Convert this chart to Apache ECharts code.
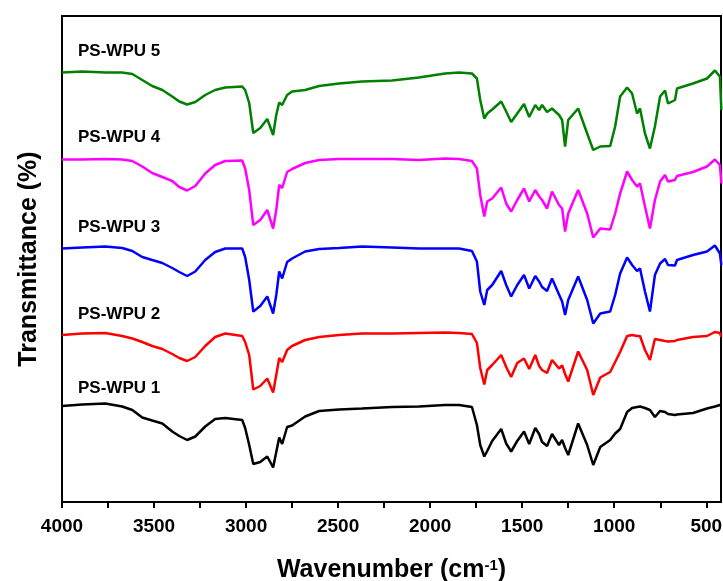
<!DOCTYPE html>
<html>
<head>
<meta charset="utf-8">
<script src="https://cdn.jsdelivr.net/npm/echarts@6/dist/echarts.min.js"></script>
<style>html,body{margin:0;padding:0;background:#fff}#c{width:723px;height:581px}</style>
</head>
<body>
<div id="c"></div>
<script>
// Wavenumber (cm-1) sample points
const wavenumbers = [4000,3890,3765,3673,3618,3564,3510,3455,3401,3363,3320,3276,3222,3168,3113,3021,3005,2983,2961,2923,2885,2853,2836,2820,2804,2777,2750,2679,2603,2495,2370,2207,2061,1919,1843,1773,1746,1728,1706,1690,1663,1614,1587,1560,1527,1490,1462,1429,1408,1392,1365,1338,1300,1283,1267,1250,1196,1147,1114,1076,1022,995,968,930,903,876,860,833,806,779,751,724,708,670,659,572,496,453,426,418];

// Stacked transmittance (offset, arbitrary units)
const psWpu5 = [85.9,86.1,85.9,85.9,85.6,84.4,83.2,82.4,81.1,80.1,79.5,80.0,81.4,82.4,82.9,83.1,82.4,79.8,73.8,74.8,76.6,73.4,77.4,79.9,79.4,81.4,82.1,82.4,83.2,83.7,84.1,84.3,84.9,85.7,85.9,85.7,84.7,80.4,76.7,77.7,78.5,80.1,78.1,76.0,77.7,79.6,77.0,79.4,78.4,79.4,78.0,78.7,77.4,76.4,71.1,76.4,78.7,73.7,70.4,71.1,71.2,75.1,81.1,82.9,81.7,77.7,78.7,73.7,70.7,75.1,81.1,82.3,79.7,80.4,82.7,83.7,84.7,86.3,85.1,78.4];
const psWpu4 = [68.5,68.5,68.6,68.5,68.2,67.1,65.8,65.0,64.2,63.0,62.3,63.2,65.7,67.4,68.2,68.3,66.7,62.4,55.4,56.4,58.4,54.7,58.4,63.4,62.8,66.0,66.6,67.8,68.4,68.6,68.6,68.6,68.4,68.7,68.6,68.2,66.7,61.4,57.1,60.1,60.7,62.9,59.7,58.1,60.4,62.7,60.1,62.4,61.1,60.4,58.7,62.1,59.4,58.7,54.1,57.7,62.4,57.7,52.9,54.7,54.5,57.7,61.7,66.1,64.4,63.1,63.7,59.1,54.7,60.4,64.1,65.4,64.1,64.4,65.2,66.0,67.1,68.5,67.4,63.7];
const psWpu3 = [50.7,50.9,51.1,50.8,50.2,49.0,48.4,47.8,46.8,46.0,45.2,46.1,48.4,50.0,50.7,50.7,49.0,44.4,38.1,39.2,41.1,37.7,41.4,46.1,44.7,48.0,48.7,50.1,50.6,50.8,51.1,50.9,50.7,50.7,50.7,50.2,48.1,42.1,39.4,42.4,43.4,46.2,43.4,41.1,43.4,45.4,42.7,45.2,44.1,43.0,42.2,44.7,41.5,40.1,37.4,40.4,45.1,40.4,35.7,37.7,38.1,41.4,45.7,48.9,47.4,46.2,46.7,42.1,38.1,45.4,47.7,48.6,47.4,47.3,48.4,49.4,50.1,51.3,49.7,47.4];
const psWpu2 = [33.4,33.7,33.8,33.2,32.7,32.0,31.2,30.6,29.6,28.8,28.2,29.0,31.2,33.0,33.7,33.2,32.0,29.4,22.5,23.2,24.7,21.9,25.4,28.8,28.0,30.4,31.2,32.4,33.0,33.4,33.7,33.7,33.8,33.9,33.8,33.6,31.8,26.8,23.5,26.4,27.4,29.4,27.0,25.0,27.8,28.7,26.6,29.4,27.2,26.4,25.8,28.4,26.7,27.3,25.6,24.1,30.1,26.4,21.4,24.9,26.0,28.0,30.0,33.2,33.4,33.2,33.2,30.4,28.4,32.6,32.4,32.2,32.1,32.2,32.4,33.0,33.2,34.0,33.8,33.0];
const psWpu1 = [19.2,19.5,19.7,19.1,18.4,16.9,16.3,15.7,14.1,13.2,12.4,13.1,15.1,16.6,16.8,16.4,14.8,11.4,7.6,8.0,9.1,6.9,10.0,12.9,11.6,15.0,15.3,17.1,18.2,18.5,18.7,19.0,19.1,19.4,19.4,19.0,15.4,11.4,9.1,10.2,12.2,14.6,11.7,10.1,12.2,14.1,11.6,14.8,13.6,12.0,11.2,13.6,11.4,12.4,10.8,9.4,15.7,11.4,7.4,11.0,12.4,13.7,14.6,18.0,18.8,19.0,19.1,18.8,18.4,17.0,18.2,18.0,17.6,17.4,17.5,17.8,18.7,19.1,19.4,19.4];

const seriesNames = ['PS-WPU 1','PS-WPU 2','PS-WPU 3','PS-WPU 4','PS-WPU 5'];
const seriesColors = ['#000000','#ff0000','#0000ff','#ff00ff','#008000'];
const labelTickValues = [4000,3500,3000,2500,2000,1500,1000,500];
const minorTickValues = [4000,3750,3500,3250,3000,2750,2500,2250,2000,1750,1500,1250,1000,750,500];

const allValues = [psWpu1, psWpu2, psWpu3, psWpu4, psWpu5];
const labelY = [388, 314, 227, 137, 51];

const FONT = 'Liberation Sans, Arial, sans-serif';
const chart = echarts.init(document.getElementById('c'), null, {renderer: 'canvas'});
chart.setOption({
  animation: false,
  grid: {left: 62, right: 2, top: 16, bottom: 79, show: true, borderColor: '#000', borderWidth: 2, containLabel: false, outerBoundsMode: 'none'},
  xAxis: {
    type: 'value', inverse: true, min: 420, max: 4000,
    name: '{a|Wavenumber (cm}{s|-1}{a|)}',
    nameLocation: 'middle', nameGap: 56,
    nameTextStyle: {rich: {
      a: {fontFamily: FONT, fontWeight: 'bold', fontSize: 25, color: '#000'},
      s: {fontFamily: FONT, fontWeight: 'bold', fontSize: 15, color: '#000', verticalAlign: 'top'}
    }},
    axisLine: {lineStyle: {color: '#000', width: 2}},
    axisTick: {show: true, inside: false, length: 6, lineStyle: {color: '#000', width: 2}, customValues: minorTickValues},
    axisLabel: {customValues: labelTickValues, formatter: v => String(v), margin: 15, fontFamily: FONT, fontWeight: 'bold', fontSize: 19, color: '#000'},
    splitLine: {show: false}
  },
  yAxis: {
    type: 'value', min: 0, max: 97.2,
    name: 'Transmittance (%)', nameLocation: 'middle', nameGap: 20,
    nameTextStyle: {fontFamily: FONT, fontWeight: 'bold', fontSize: 25, color: '#000'},
    axisLine: {show: true, lineStyle: {color: '#000', width: 2}},
    axisTick: {show: false}, axisLabel: {show: false}, splitLine: {show: false}
  },
  series: allValues.map((vals, i) => ({
    name: seriesNames[i], type: 'line', showSymbol: false, symbol: 'none',
    lineStyle: {color: seriesColors[i], width: 2.5},
    data: wavenumbers.map((w, j) => [w, vals[j]])
  })),
  graphic: seriesNames.map((n, i) => ({
    type: 'text', x: 78, y: labelY[i],
    style: {text: n, fontFamily: FONT, fontWeight: 'bold', fontSize: 17, fill: '#000', verticalAlign: 'middle'}
  }))
});
</script>
</body>
</html>
